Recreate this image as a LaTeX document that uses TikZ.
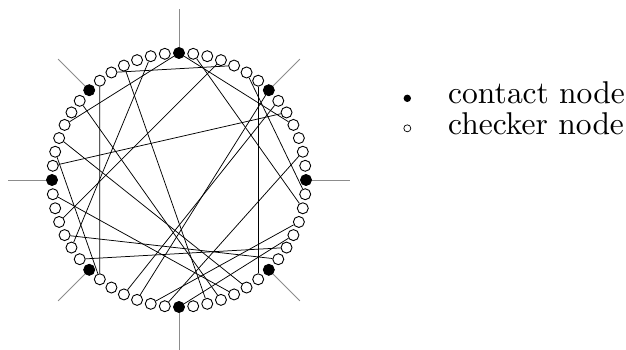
\documentclass[tikz,border=0pt]{standalone}
\font\legfont=cmr10 at 31.5pt
\begin{document}
\begin{tikzpicture}[x=1pt,y=-1pt,
  checker/.style={circle,draw=black,fill=white,line width=0.9pt,minimum size=11pt,inner sep=0pt},
  contact/.style={circle,draw=black,fill=black,line width=0.9pt,minimum size=11pt,inner sep=0pt},
  chord/.style={line width=0.75pt,black},
  spoke/.style={line width=0.75pt,black!45},
  legtext/.style={anchor=base west,inner sep=0pt,font=\legfont}]
\useasboundingbox (0,0) rectangle (626,349);
% ring nodes
\foreach \i in {0,...,55}{
  \pgfmathsetmacro{\ang}{90-\i*6.4285714}
  \pgfmathtruncatemacro{\m}{mod(\i,7)}
  \ifnum\m=0
    \node[contact] (n\i) at ({179+127*cos(\ang)},{180-127*sin(\ang)}) {};
    \coordinate (s\i) at ({179+171*cos(\ang)},{180-171*sin(\ang)});
  \else
    \node[checker] (n\i) at ({179+127*cos(\ang)},{180-127*sin(\ang)}) {};
  \fi
}
% spokes
\foreach \i in {0,7,14,21,28,35,42,49}{
  \draw[spoke] (n\i) -- (s\i);
}
% chords
\foreach \a/\b in {0/46,0/10,3/39,51/4,5/15,6/22,7/31,8/32,43/9,12/29,30/17,18/28,36/19,38/20,45/23,41/24,48/25,52/26,54/37,50/34,44/34,1/16}{
  \draw[chord] (n\a) -- (n\b);
}
% legend
\node[circle,fill=black,inner sep=0pt,minimum size=7.4pt] (lc) at (407.3,98.3) {};
\node[circle,draw=black,fill=white,line width=0.7pt,inner sep=0pt,minimum size=7pt] (lk) at (407.3,128.3) {};
\node[legtext] (tc) at (448,103.3) {contact node};
\node[legtext] (tk) at (448,134.5) {checker node};
\end{tikzpicture}
\end{document}
